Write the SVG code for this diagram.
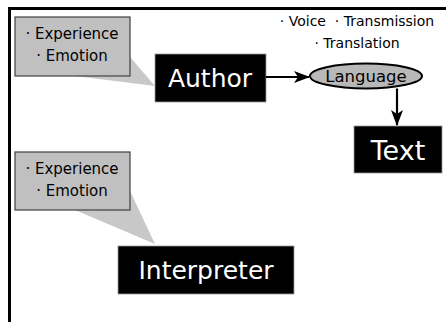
<svg xmlns="http://www.w3.org/2000/svg" width="446" height="322" viewBox="0 0 446 322">
<style>
.t{font-family:"DejaVu Sans","Liberation Sans",sans-serif;}
.note{fill:#c0c0c0;stroke:#404040;stroke-width:1.2}
.tail{fill:#c8c8c8}
.nt{font-size:15px;fill:#000;text-anchor:middle}
.blk{fill:#000;stroke:#999;stroke-width:0.8}
.bt{fill:#fff;text-anchor:middle}
.con{stroke:#000;stroke-width:2.2;fill:none}
</style>
<defs>
<marker id="ah" viewBox="0 0 16 12" refX="15" refY="6" markerWidth="16" markerHeight="12" markerUnits="userSpaceOnUse" orient="auto">
<path d="M0,0 L16,6 L0,12 L4,6 Z" fill="#000"/>
</marker>
</defs>
<rect width="446" height="322" fill="#fff"/>
<g id="frame">
<path d="M9.5,322 V8.5 H446" fill="none" stroke="#000" stroke-width="3"/>
</g>
<g id="note1">
<polygon class="tail" points="75,76 130,57 155,86"/>
<rect class="note" x="15" y="17" width="115" height="59"/>
<text class="t nt" x="72" y="39">· Experience</text>
<text class="t nt" x="72" y="61">· Emotion</text>
</g>
<g id="note2">
<polygon class="tail" points="75,210 130,191 155,244"/>
<rect class="note" x="15" y="152" width="115" height="58"/>
<text class="t nt" x="72" y="174">· Experience</text>
<text class="t nt" x="72" y="196">· Emotion</text>
</g>
<g id="labels">
<text class="t" x="357" y="26" font-size="14" text-anchor="middle" style="white-space:pre">· Voice  · Transmission</text>
<text class="t" x="357" y="48" font-size="14" text-anchor="middle">· Translation</text>
</g>
<g id="author">
<rect class="blk" x="155" y="54" width="111" height="48"/>
<text class="t bt" x="210" y="87" font-size="25">Author</text>
</g>
<g id="language">
<ellipse cx="366" cy="76" rx="56" ry="12.5" fill="#b8b8b8" stroke="#000" stroke-width="2"/>
<text class="t" x="366" y="82" font-size="16.5" text-anchor="middle">Language</text>
</g>
<g id="text">
<rect class="blk" x="354" y="126" width="88" height="47"/>
<text class="t bt" x="398" y="160" font-size="27">Text</text>
</g>
<g id="interpreter">
<rect class="blk" x="118" y="246" width="176" height="48"/>
<text class="t bt" x="206" y="279" font-size="25">Interpreter</text>
</g>
<g id="connectors">
<line class="con" x1="266" y1="77" x2="309" y2="77" marker-end="url(#ah)"/>
<line class="con" x1="397" y1="88.5" x2="397" y2="125" marker-end="url(#ah)"/>
</g>
</svg>
